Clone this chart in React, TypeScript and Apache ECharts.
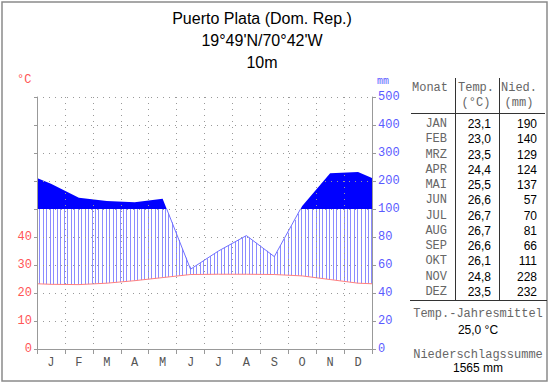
import React, { useEffect, useRef } from "react";
import * as echarts from "echarts";

const title = "Puerto Plata (Dom. Rep.)";
const coords = "19°49'N/70°42'W";
const altitude = "10m";
const monthNames = ["JAN", "FEB", "MRZ", "APR", "MAI", "JUN", "JUL", "AUG", "SEP", "OKT", "NOV", "DEZ"];
const monthInitials = ["J", "F", "M", "A", "M", "J", "J", "A", "S", "O", "N", "D"];
const temps = [23.1, 23.0, 23.5, 24.4, 25.5, 26.6, 26.7, 26.7, 26.6, 26.1, 24.8, 23.5];
const precip = [190, 140, 129, 124, 137, 57, 70, 81, 66, 111, 228, 232];
const tempTickLabels = ["0", "10", "20", "30", "40"];
const precipTickLabels = ["0", "20", "40", "60", "80", "100", "200", "300", "400", "500"];

const MONO = "Liberation Mono, DejaVu Sans Mono, monospace";
const SANS = "Liberation Sans, Arial, sans-serif";

// Walter-Lieth scale: 10 °C = 20 mm per unit below 100 mm; 100 mm per unit above
const tU = (t: number) => t / 10;
const pU = (p: number) => (p <= 100 ? p / 20 : 5 + (p - 100) / 100);

function buildSeries() {
  const edgeT = (temps[11] + temps[0]) / 2;
  const edgeP = (precip[11] + precip[0]) / 2;
  const xs = [0, ...temps.map((_, i) => i + 0.5), 12];
  const tu = [edgeT, ...temps, edgeT].map(tU);
  const pu = [edgeP, ...precip, edgeP].map(pU);
  return { xs, tu, pu };
}

function evalAt(xs: number[], ys: number[], x: number) {
  if (x <= xs[0]) return ys[0];
  for (let i = 0; i < xs.length - 1; i++) {
    if (x <= xs[i + 1]) {
      const f = (x - xs[i]) / (xs[i + 1] - xs[i]);
      return ys[i] + f * (ys[i + 1] - ys[i]);
    }
  }
  return ys[ys.length - 1];
}

export default function App() {
  const ref = useRef<HTMLDivElement>(null);
  useEffect(() => {
    document.body.style.margin = "0";
    const chart = echarts.init(ref.current!, undefined, { renderer: "svg" });
    const { xs, tu, pu } = buildSeries();
    const meanT = temps.reduce((a, b) => a + b, 0) / temps.length;
    const sumP = precip.reduce((a, b) => a + b, 0);

    const renderItem = (params: any, api: any) => {
      const c = (x: number, y: number) => api.coord([x, y]);
      const children: any[] = [];
      // precipitation curve below 100 mm, split into runs
      const runs: number[][][] = [];
      let cur: number[][] = [];
      const dark: number[][] = [c(0, 5)];
      for (let i = 0; i < xs.length; i++) {
        if (pu[i] <= 5) cur.push(c(xs[i], pu[i]));
        dark.push(c(xs[i], Math.max(pu[i], 5)));
        if (i < xs.length - 1 && (pu[i] - 5) * (pu[i + 1] - 5) < 0) {
          const xc = xs[i] + ((5 - pu[i]) / (pu[i + 1] - pu[i])) * (xs[i + 1] - xs[i]);
          const pc = c(xc, 5);
          dark.push(pc);
          cur.push(pc);
          if (pu[i] <= 5) {
            runs.push(cur);
            cur = [];
          }
        }
      }
      if (cur.length > 1) runs.push(cur);
      dark.push(c(12, 5));
      // hatching
      const px0 = c(0, 0)[0];
      const pxPerUnit = c(1, 0)[0] - px0;
      const step = 3.5;
      for (let px = px0 + 2; px < px0 + 12 * pxPerUnit; px += step) {
        const x = (px - px0) / pxPerUnit;
        const top = Math.min(evalAt(xs, pu, x), 5);
        const bot = evalAt(xs, tu, x);
        if (top > bot) {
          const p1 = c(x, bot);
          const p2 = c(x, top);
          const sx = Math.round(p1[0]) + 0.5;
          children.push({
            type: "line",
            shape: { x1: sx, y1: p1[1], x2: sx, y2: p2[1] },
            style: { stroke: "#8c8cff", lineWidth: 1 },
          });
        }
      }
      runs.forEach((r) =>
        children.push({
          type: "polyline",
          shape: { points: r },
          style: { stroke: "#6f6fff", lineWidth: 1, fill: "none" },
        })
      );
      children.push({
        type: "polygon",
        shape: { points: dark },
        style: { fill: "#0000ff", lineWidth: 0 },
      });
      children.push({
        type: "polyline",
        shape: { points: xs.map((x, i) => c(x, tu[i])) },
        style: { stroke: "#ff8080", lineWidth: 1, fill: "none" },
      });
      return { type: "group", children };
    };

    const rowY0 = 124;
    const rowStep = 15.25;
    const tableTexts: any[] = [];
    monthNames.forEach((m, i) => {
      const y = rowY0 + i * rowStep;
      tableTexts.push({ type: "text", x: 447, y, style: { text: m, font: `12px ${MONO}`, fill: "#666", align: "right", verticalAlign: "middle" } });
      tableTexts.push({ type: "text", x: 491, y, style: { text: temps[i].toFixed(1).replace(".", ","), font: `12px ${SANS}`, fill: "#000", align: "right", verticalAlign: "middle" } });
      tableTexts.push({ type: "text", x: 537, y, style: { text: String(precip[i]), font: `12px ${SANS}`, fill: "#000", align: "right", verticalAlign: "middle" } });
    });

    const option: any = {
      animation: false,
      grid: { left: 37, right: 178, top: 97, bottom: 35, containLabel: false },
      xAxis: [
        {
          type: "value",
          min: 0,
          max: 12,
          interval: 1,
          z: 5,
          axisLine: { show: true, lineStyle: { color: "#999", width: 1 } },
          axisTick: { show: true, length: 5, lineStyle: { color: "#999" } },
          axisLabel: { show: false },
          splitLine: { show: true, lineStyle: { color: "#999", type: [1, 5], width: 1 } },
        },
        {
          type: "category",
          data: monthInitials,
          position: "bottom",
          boundaryGap: true,
          axisLine: { show: false },
          axisTick: { show: false },
          splitLine: { show: false },
          axisLabel: { color: "#555", fontFamily: MONO, fontSize: 12, margin: 8 },
        },
      ],
      yAxis: [
        {
          type: "value",
          min: 0,
          max: 9,
          interval: 1,
          position: "left",
          z: 5,
          axisLine: { show: true, lineStyle: { color: "#999", width: 1 } },
          axisTick: { show: true, length: 3, lineStyle: { color: "#999" } },
          axisLabel: {
            color: "#ff5555",
            fontFamily: MONO,
            fontSize: 12,
            margin: 5,
            formatter: (v: number) => tempTickLabels[v] ?? "",
          },
          splitLine: { show: true, lineStyle: { color: "#999", type: [1, 5], width: 1 } },
        },
        {
          type: "value",
          min: 0,
          max: 9,
          interval: 1,
          position: "right",
          z: 5,
          axisLine: { show: true, lineStyle: { color: "#999", width: 1 } },
          axisTick: { show: true, length: 4, lineStyle: { color: "#999" } },
          axisLabel: {
            color: "#5a5aff",
            fontFamily: MONO,
            fontSize: 12,
            margin: 6,
            formatter: (v: number) => precipTickLabels[v] ?? "",
          },
          splitLine: { show: false },
        },
      ],
      series: [
        {
          type: "custom",
          coordinateSystem: "cartesian2d",
          xAxisIndex: 0,
          yAxisIndex: 0,
          z: 2,
          clip: false,
          silent: true,
          data: [[0, 0]],
          renderItem,
        },
      ],
      graphic: [
        { type: "rect", shape: { x: 2, y: 2, width: 545, height: 379 }, style: { fill: "none", stroke: "#8a8a8a", lineWidth: 1.5 } },
        { type: "text", x: 262, y: 18, style: { text: title, font: `16px ${SANS}`, fill: "#000", align: "center", verticalAlign: "middle" } },
        { type: "text", x: 262, y: 40, style: { text: coords, font: `16px ${SANS}`, fill: "#000", align: "center", verticalAlign: "middle" } },
        { type: "text", x: 262, y: 62, style: { text: altitude, font: `16px ${SANS}`, fill: "#000", align: "center", verticalAlign: "middle" } },
        { type: "text", x: 17, y: 80, style: { text: "°C", font: `12px ${MONO}`, fill: "#ff5555", align: "left", verticalAlign: "middle" } },
        { type: "text", x: 377, y: 81, style: { text: "mm", font: `10px ${MONO}`, fill: "#5a5aff", align: "left", verticalAlign: "middle" } },
        { type: "text", x: 412, y: 88, style: { text: "Monat", font: `12px ${MONO}`, fill: "#666", align: "left", verticalAlign: "middle" } },
        { type: "text", x: 476, y: 88, style: { text: "Temp.", font: `12px ${MONO}`, fill: "#666", align: "center", verticalAlign: "middle" } },
        { type: "text", x: 519, y: 88, style: { text: "Nied.", font: `12px ${MONO}`, fill: "#666", align: "center", verticalAlign: "middle" } },
        { type: "text", x: 476, y: 103, style: { text: "(°C)", font: `12px ${MONO}`, fill: "#666", align: "center", verticalAlign: "middle" } },
        { type: "text", x: 519, y: 103, style: { text: "(mm)", font: `12px ${MONO}`, fill: "#666", align: "center", verticalAlign: "middle" } },
        { type: "line", shape: { x1: 411, y1: 113.5, x2: 545, y2: 113.5 }, style: { stroke: "#333", lineWidth: 1 } },
        { type: "line", shape: { x1: 455.5, y1: 78, x2: 455.5, y2: 300 }, style: { stroke: "#333", lineWidth: 1 } },
        { type: "line", shape: { x1: 499.5, y1: 78, x2: 499.5, y2: 300 }, style: { stroke: "#333", lineWidth: 1 } },
        { type: "line", shape: { x1: 410, y1: 300.5, x2: 547, y2: 300.5 }, style: { stroke: "#333", lineWidth: 1 } },
        ...tableTexts,
        { type: "text", x: 478, y: 314, style: { text: "Temp.-Jahresmittel", font: `12px ${MONO}`, fill: "#666", align: "center", verticalAlign: "middle" } },
        { type: "text", x: 478, y: 330, style: { text: `${meanT.toFixed(1).replace(".", ",")} °C`, font: `12px ${SANS}`, fill: "#000", align: "center", verticalAlign: "middle" } },
        { type: "text", x: 478, y: 355, style: { text: "Niederschlagssumme", font: `12px ${MONO}`, fill: "#666", align: "center", verticalAlign: "middle" } },
        { type: "text", x: 478, y: 368, style: { text: `${sumP} mm`, font: `12px ${SANS}`, fill: "#000", align: "center", verticalAlign: "middle" } },
      ],
    };
    chart.setOption(option);
    return () => chart.dispose();
  }, []);
  return <div ref={ref} style={{ width: 550, height: 384, background: "#fff" }} />;
}
